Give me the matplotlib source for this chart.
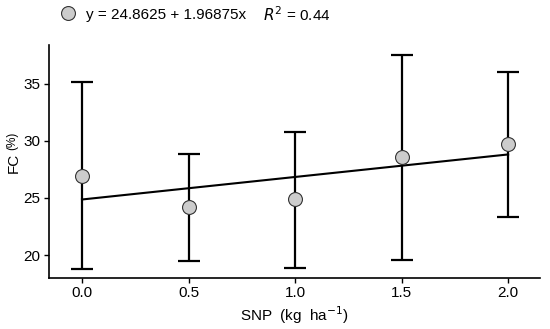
"""
FC vs SNP with linear fit
"""

import matplotlib.pyplot as plt
import numpy as np
from matplotlib.lines import Line2D

plt.rcParams['font.family'] = ['Liberation Sans', 'DejaVu Sans']

# data
snp = [0.0, 0.5, 1.0, 1.5, 2.0]
fc_mean = [26.9, 24.2, 24.9, 28.6, 29.7]
fc_low = [18.8, 19.5, 18.9, 19.6, 23.3]
fc_high = [35.1, 28.8, 30.8, 37.5, 36.0]
intercept = 24.8625
slope = 1.96875
r2 = 0.44
xticks = [0.0, 0.5, 1.0, 1.5, 2.0]
yticks = [20, 25, 30, 35]

fig = plt.figure(figsize=(5.5, 3.29), dpi=100)
ax = fig.add_axes([0.089, 0.155, 0.893, 0.708])

mean = np.array(fc_mean)
yerr = [mean - np.array(fc_low), np.array(fc_high) - mean]
ax.errorbar(snp, fc_mean, yerr=yerr, fmt='none', ecolor='black',
            elinewidth=1.6, capsize=8, capthick=1.6, zorder=2)

xs = np.array([snp[0], snp[-1]])
ax.plot(xs, intercept + slope * xs, color='black', lw=1.5, zorder=3)

ax.plot(snp, fc_mean, 'o', ms=10, mfc='#cccccc', mec='#333333',
        mew=0.8, zorder=4)

ax.set_xlim(-0.155, 2.15)
ax.set_ylim(18.0, 38.36)
ax.set_xticks(xticks)
ax.set_xticklabels(['%.1f' % v for v in xticks])
ax.set_yticks(yticks)
ax.tick_params(labelsize=11, length=3.5, width=1, colors='black', pad=2.5)
ax.spines['top'].set_visible(False)
ax.spines['right'].set_visible(False)
for s in ['left', 'bottom']:
    ax.spines[s].set_linewidth(1.2)

ax.set_xlabel(r'SNP  (kg  ha$^{-1}$)', fontsize=11, labelpad=3)

# y label: "FC" with smaller "(%)"
fig.text(0.025, 0.505, 'FC', rotation=90, fontsize=11,
         ha='center', va='center')
fig.text(0.022, 0.572, '(%)', rotation=90, fontsize=8.5,
         ha='center', va='center')

# legend line at the top
handle = Line2D([], [], marker='o', ls='none', ms=10, mfc='#cccccc',
                mec='#333333', mew=0.8)
fig.legend([handle], ['y = %s + %sx' % (intercept, slope)],
           loc='center left', bbox_to_anchor=(0.095, 0.955), frameon=False,
           fontsize=11, handletextpad=0.2, borderpad=0, borderaxespad=0)
fig.text(0.478, 0.955, r'$R^2$ = %.2f' % r2, fontsize=11,
         ha='left', va='center')

fig.savefig('out.png', dpi=100)
